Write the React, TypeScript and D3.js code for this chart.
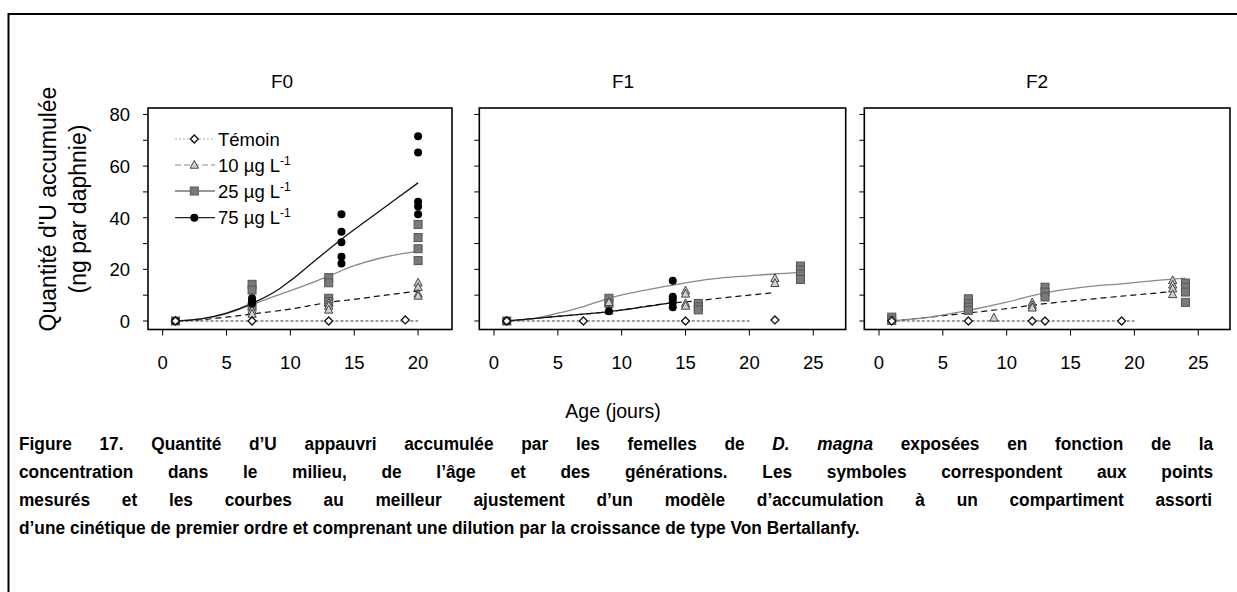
import React from "react";
import * as d3 from "d3";

type Pt = [number, number];

// ---------- text ----------
const panelTitles = ["F0", "F1", "F2"];
const legendLabels = ["Témoin", "10 µg L", "25 µg L", "75 µg L"];
const legendSup = ["", "-1", "-1", "-1"];
const yTicks = [0, 20, 40, 60, 80];
const yMinor = [10, 30, 50, 70];
const xTicksF0 = [0, 5, 10, 15, 20];
const xTicksF1 = [0, 5, 10, 15, 20, 25];
const xTicksF2 = [0, 5, 10, 15, 20, 25];

// ---------- F0 measured points ----------
const f0Temoin: Pt[] = [[1, 0], [7, 0], [13, 0], [19, 0.4]];
const f0C10: Pt[] = [[1, 0], [7, 4], [7, 2.7], [13, 6.8], [13, 5.8], [13, 4.3], [20, 14.8], [20, 13], [20, 10.5], [20, 9.7]];
const f0C25: Pt[] = [[1, 0], [7, 14.2], [7, 12], [7, 5.5], [13, 16.8], [13, 14.8], [13, 8.8], [13, 7.5], [20, 37.4], [20, 32.3], [20, 28], [20, 23.4]];
const f0C75: Pt[] = [[1, 0], [7, 8.8], [7, 7.9], [7, 6.8], [14, 41.3], [14, 34.6], [14, 30.5], [14, 24.9], [14, 22.3], [20, 71.6], [20, 65.3], [20, 46.2], [20, 44.3], [20, 41.3]];
// F0 fitted curves
const f0FitTemoin: Pt[] = [[1, 0], [20, 0]];
const f0FitC10: Pt[] = [[1, 0], [3, 0.5], [5, 1.5], [7, 2.7], [10, 4.6], [13, 7.2], [15, 8.4], [17, 9.7], [20, 11.6]];
const f0FitC25: Pt[] = [[1, 0], [3, 0.8], [5, 2.8], [7, 6.4], [9, 10], [11, 13.5], [13, 17.4], [15, 21.4], [17, 24.3], [19, 26.3], [20, 27]];
const f0FitC75: Pt[] = [[1, 0], [3, 0.8], [5, 3], [7, 6.8], [9, 12], [10, 15.6], [12, 23.7], [14, 31.7], [16, 39], [18, 46.3], [20, 53.5]];

// ---------- F1 ----------
const f1Temoin: Pt[] = [[1, 0], [7, 0], [15, 0], [22, 0.4]];
const f1C10: Pt[] = [[1, 0], [9, 7.2], [9, 4.0], [15, 11.7], [15, 10.5], [15, 6.8], [15, 5.8], [22, 16.5], [22, 14.6]];
const f1C25: Pt[] = [[1, 0], [9, 8.8], [9, 6.8], [16, 6.8], [16, 5.5], [16, 4.3], [24, 21.3], [24, 19.7], [24, 18.1], [24, 16.1]];
const f1C75: Pt[] = [[1, 0], [9, 3.8], [14, 15.6], [14, 9.4], [14, 8.5], [14, 7.2], [14, 5.3]];
const f1FitTemoin: Pt[] = [[1, 0], [20, 0]];
const f1FitC10: Pt[] = [[1, 0], [5, 1.8], [9, 3.6], [14, 7.0], [15, 7.4], [18, 9], [22, 11]];
const f1FitC25: Pt[] = [[1, 0], [3, 0.8], [5, 3.0], [7, 5.6], [9, 8.8], [11, 11.1], [13, 13], [15, 14.8], [18, 16.8], [20, 17.5], [22, 18.2], [24, 18.7]];
const f1FitC75: Pt[] = [[1, 0], [5, 1.8], [9, 3.6], [14, 7.1]];

// ---------- F2 ----------
const f2Temoin: Pt[] = [[1, 0], [7, 0], [12, 0], [13, 0], [19, 0]];
const f2C10: Pt[] = [[1, 0], [9, 1.2], [12, 7.1], [12, 6.0], [12, 5.1], [23, 15.7], [23, 14], [23, 12.5], [23, 10.3]];
const f2C25: Pt[] = [[1, 1.5], [1, 0.3], [7, 8.6], [7, 6.7], [7, 5.4], [7, 4.1], [13, 13.1], [13, 11.2], [13, 9.3], [24, 14.7], [24, 13.1], [24, 11.2], [24, 7.2]];
const f2C75: Pt[] = [];
const f2FitTemoin: Pt[] = [[1, 0], [20, 0]];
const f2FitC10: Pt[] = [[1, 0], [4, 1.5], [7, 3.1], [10, 4.8], [13, 6.7], [16, 8.2], [19, 9.6], [23, 11.4]];
const f2FitC25: Pt[] = [[1, 0], [4, 1.5], [7, 4.1], [10, 7.3], [13, 10.9], [16, 13.1], [19, 14.4], [22, 15.8], [24, 16.6]];
const f2FitC75: Pt[] = [];

const captionLines = [
  ["Figure 17. Quantité d’U appauvri accumulée par les femelles de ", "D. magna", " exposées en fonction de la"],
  ["concentration dans le milieu, de l’âge et des générations. Les symboles correspondent aux points"],
  ["mesurés et les courbes au meilleur ajustement d’un modèle d’accumulation à un compartiment assorti"],
  ["d’une cinétique de premier ordre et comprenant une dilution par la croissance de type Von Bertallanfy."],
];

// ---------- layout ----------
const Y_TOP = 108;
const Y_BOT = 329.5;
const X_MIN = -1.15;
const PX_PER_DAY = 12.77;

const panels = [
  { title: panelTitles[0], titleX: 282, left: 148, right: 452, ticks: xTicksF0, labels: true,
    pts: [f0Temoin, f0C10, f0C25, f0C75], fits: [f0FitTemoin, f0FitC10, f0FitC25, f0FitC75] },
  { title: panelTitles[1], titleX: 623, left: 479.3, right: 845.7, ticks: xTicksF1, labels: false,
    pts: [f1Temoin, f1C10, f1C25, f1C75], fits: [f1FitTemoin, f1FitC10, f1FitC25, f1FitC75] },
  { title: panelTitles[2], titleX: 1037, left: 864.3, right: 1230, ticks: xTicksF2, labels: false,
    pts: [f2Temoin, f2C10, f2C25, f2C75], fits: [f2FitTemoin, f2FitC10, f2FitC25, f2FitC75] },
];

const fitStyles = [
  { stroke: "#222", width: 0.9, dash: "3,2" },
  { stroke: "#111", width: 1.2, dash: "6,4" },
  { stroke: "#888", width: 1.3, dash: "" },
  { stroke: "#111", width: 1.3, dash: "" },
];
const legendLineStyles = [
  { stroke: "#aaa", width: 1, dash: "2,2" },
  { stroke: "#888", width: 1, dash: "6,3" },
  { stroke: "#777", width: 1.3, dash: "" },
  { stroke: "#222", width: 1.3, dash: "" },
];

const AX = "Liberation Sans, Arial, sans-serif";
const CAP_FONT_SIZE = 18.5;
const CAP_SX = 0.935;

function Marker({ kind, cx, cy }: { kind: number; cx: number; cy: number }) {
  if (kind === 0) {
    const r = 4;
    return <polygon points={`${cx},${cy - r} ${cx + r},${cy} ${cx},${cy + r} ${cx - r},${cy}`} fill="#fff" stroke="#111" strokeWidth={1.3} />;
  }
  if (kind === 1) {
    const r = 4.6;
    return <polygon points={`${cx},${cy - r} ${cx + r * 0.9},${cy + r * 0.7} ${cx - r * 0.9},${cy + r * 0.7}`} fill="#d0d0d0" stroke="#444" strokeWidth={1} />;
  }
  if (kind === 2) {
    const s = 8;
    return <rect x={cx - s / 2} y={cy - s / 2} width={s} height={s} fill="#7a7a7a" stroke="#555" strokeWidth={1} />;
  }
  return <circle cx={cx} cy={cy} r={4} fill="#000" />;
}

function Panel({ p }: { p: (typeof panels)[number] }) {
  const xMax = X_MIN + (p.right - p.left) / PX_PER_DAY;
  const x = d3.scaleLinear().domain([X_MIN, xMax]).range([p.left, p.right]);
  const y = d3.scaleLinear().domain([-3.3, 82.5]).range([Y_BOT, Y_TOP]);
  const line = d3.line<Pt>().x((d) => x(d[0])).y((d) => y(d[1])).curve(d3.curveMonotoneX);
  const drawOrder = [2, 1, 3, 0];
  return (
    <g>
      <text x={p.titleX} y={88} textAnchor="middle" fontFamily={AX} fontSize={19}>{p.title}</text>
      {p.fits.map((f, i) =>
        f.length ? (
          <path key={"f" + i} d={line(f) || ""} fill="none" stroke={fitStyles[i].stroke} strokeWidth={fitStyles[i].width} strokeDasharray={fitStyles[i].dash || undefined} />
        ) : null
      )}
      {drawOrder.map((k) =>
        p.pts[k].map((d, j) => <Marker key={k + "-" + j} kind={k} cx={x(d[0])} cy={y(d[1])} />)
      )}
      <rect x={p.left} y={Y_TOP} width={p.right - p.left} height={Y_BOT - Y_TOP} fill="none" stroke="#000" strokeWidth={1.6} />
      {[...yTicks, ...yMinor].map((t) => (
        <line key={"yt" + t} x1={p.left - 5} x2={p.left} y1={y(t)} y2={y(t)} stroke="#000" strokeWidth={1} />
      ))}
      {p.labels &&
        yTicks.map((t) => (
          <text key={"yl" + t} x={130} y={y(t) + 6.8} textAnchor="end" fontFamily={AX} fontSize={18.5}>{t}</text>
        ))}
      {p.ticks.map((t) => (
        <g key={"xt" + t}>
          <line x1={x(t)} x2={x(t)} y1={Y_BOT} y2={Y_BOT + 6} stroke="#000" strokeWidth={1} />
          <text x={x(t)} y={368.5} textAnchor="middle" fontFamily={AX} fontSize={18.5}>{t}</text>
        </g>
      ))}
    </g>
  );
}

function Legend() {
  const rows = [139, 165, 191, 217.7];
  return (
    <g>
      {legendLabels.map((lab, i) => (
        <g key={lab}>
          <line x1={175} x2={215} y1={rows[i]} y2={rows[i]} stroke={legendLineStyles[i].stroke} strokeWidth={legendLineStyles[i].width} strokeDasharray={legendLineStyles[i].dash || undefined} />
          <Marker kind={i} cx={194.3} cy={rows[i]} />
          <text x={218} y={rows[i] + 6.5} fontFamily={AX} fontSize={18.5}>
            {lab}
            {legendSup[i] && <tspan dy={-7} fontSize={12}>{legendSup[i]}</tspan>}
          </text>
        </g>
      ))}
    </g>
  );
}

function measureParts(parts: string[]): number {
  if (typeof document === "undefined") return 0;
  const ctx = document.createElement("canvas").getContext("2d");
  if (!ctx) return 0;
  let w = 0;
  parts.forEach((s, j) => {
    ctx.font = `${j === 1 ? "italic " : ""}bold ${CAP_FONT_SIZE}px "Liberation Sans"`;
    w += ctx.measureText(s).width;
  });
  return w;
}

export default function App() {
  const capY = [450, 478, 506, 534];
  const capW = [1195, 1195, 1194, 0];
  const spacing = React.useMemo(
    () =>
      captionLines.map((parts, i) => {
        if (!capW[i]) return 0;
        const nat = measureParts(parts);
        const spaces = parts.join("").split(" ").length - 1;
        return nat > 0 ? (capW[i] / CAP_SX - nat) / spaces : 0;
      }),
    []
  );
  return (
    <svg width={1237} height={592} style={{ position: "absolute", left: 0, top: 0, background: "#fff" }}>
      <rect x={8.5} y={14} width={1300} height={700} fill="none" stroke="#000" strokeWidth={2} />
      {panels.map((p) => <Panel key={p.title} p={p} />)}
      <Legend />
      <text transform="translate(56,209) rotate(-90)" textAnchor="middle" fontFamily={AX} fontSize={23}>Quantité d'U accumulée</text>
      <text transform="translate(86,209) rotate(-90)" textAnchor="middle" fontFamily={AX} fontSize={23}>(ng par daphnie)</text>
      <text x={613} y={418} textAnchor="middle" fontFamily={AX} fontSize={19.5}>Age (jours)</text>
      {captionLines.map((parts, i) => (
        <text key={i} transform={`translate(19,${capY[i]}) scale(${CAP_SX},1)`} fontFamily={AX} fontWeight="bold" fontSize={CAP_FONT_SIZE}
          style={{ wordSpacing: `${spacing[i]}px`, whiteSpace: "pre" }}>
          {parts.map((s, j) => (
            <tspan key={j} fontStyle={j === 1 ? "italic" : undefined}>{s}</tspan>
          ))}
        </text>
      ))}
    </svg>
  );
}
